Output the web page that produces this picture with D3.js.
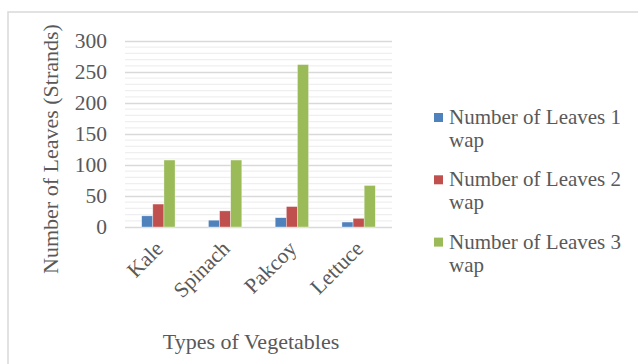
<!DOCTYPE html>
<html>
<head>
<meta charset="utf-8">
<script src="https://cdn.jsdelivr.net/npm/d3@7/dist/d3.min.js"></script>
<style>
  html, body { margin: 0; padding: 0; background: #fff; }
  svg { display: block; }
  text { font-family: "Liberation Serif", "Times New Roman", serif; fill: #595959; }
</style>
</head>
<body>
<svg id="chart" width="638" height="364"></svg>
<script>
// Leaf counts per vegetable at weeks after planting (wap)
const categories = ["Kale", "Spinach", "Pakcoy", "Lettuce"];
const seriesNames = ["Number of Leaves 1 wap", "Number of Leaves 2 wap", "Number of Leaves 3 wap"];
const leaves1wap = [18, 11, 15, 8];
const leaves2wap = [37, 26, 33, 14];
const leaves3wap = [108, 108, 262, 67];
const yTicks = [0, 50, 100, 150, 200, 250, 300];
const seriesColors = ["#4F81BD", "#C0504D", "#9BBB59"];

const seriesValues = [leaves1wap, leaves2wap, leaves3wap];

const svg = d3.select("#chart");
const W = 638, H = 364;
const plot = { left: 125, right: 392, top: 41, bottom: 227 };

// Outer chart frame
svg.append("rect")
  .attr("x", 8).attr("y", 12)
  .attr("width", W).attr("height", H)
  .attr("fill", "#fff")
  .attr("stroke", "#d9d9d9").attr("stroke-width", 1.5);

const y = d3.scaleLinear().domain([0, 300]).range([plot.bottom, plot.top]);
const x0 = d3.scaleBand().domain(categories)
  .range([plot.left, plot.right]).paddingInner(0.5).paddingOuter(0.25);
const x1 = d3.scaleBand().domain(d3.range(seriesNames.length))
  .range([0, x0.bandwidth()]);

// Minor gridlines every 10
const minor = d3.range(0, 301, 10).filter(v => v % 50 !== 0);
svg.append("g").selectAll("line").data(minor).join("line")
  .attr("x1", plot.left).attr("x2", plot.right)
  .attr("y1", d => y(d)).attr("y2", d => y(d))
  .attr("stroke", "#efefef").attr("stroke-width", 1.3);

// Major gridlines and value axis labels
const yAxis = d3.axisLeft(y).tickValues(yTicks).tickSize(-(plot.right - plot.left)).tickPadding(18);
const gy = svg.append("g").attr("transform", `translate(${plot.left},0)`).call(yAxis);
gy.select(".domain").remove();
gy.selectAll(".tick line").attr("stroke", "#d9d9d9").attr("stroke-width", 1.6);
gy.selectAll(".tick text")
  .attr("font-size", 21.5).attr("fill", "#595959")
  .attr("font-family", "Liberation Serif, Times New Roman, serif");

// Bars
const groups = svg.append("g").selectAll("g").data(categories).join("g")
  .attr("transform", c => `translate(${x0(c)},0)`);
groups.selectAll("rect")
  .data((c, ci) => seriesValues.map((vals, si) => ({ si, v: vals[ci] })))
  .join("rect")
  .attr("x", d => x1(d.si))
  .attr("width", x1.bandwidth())
  .attr("y", d => y(d.v))
  .attr("height", d => y(0) - y(d.v))
  .attr("fill", d => seriesColors[d.si])
  .attr("stroke", "#ffffff").attr("stroke-opacity", 0.6).attr("stroke-width", 0.6);

// Category labels, rotated
svg.append("g").selectAll("text").data(categories).join("text")
  .attr("transform", c => `translate(${x0(c) + x0.bandwidth() / 2 + 6},${plot.bottom + 23}) rotate(-45)`)
  .attr("text-anchor", "end")
  .attr("font-size", 21.5)
  .text(c => c);

// Axis titles
svg.append("text")
  .attr("transform", `translate(58,${(plot.top + plot.bottom) / 2 + 15}) rotate(-90)`)
  .attr("text-anchor", "middle")
  .attr("font-size", 22)
  .text("Number of Leaves (Strands)");

svg.append("text")
  .attr("x", 251).attr("y", 349)
  .attr("text-anchor", "middle")
  .attr("font-size", 22)
  .text("Types of Vegetables");

// Legend
const legend = svg.append("g").selectAll("g").data(seriesNames).join("g")
  .attr("transform", (d, i) => `translate(434,${124 + i * 62.3})`);
legend.append("rect")
  .attr("x", 0).attr("y", -11).attr("width", 9).attr("height", 9)
  .attr("fill", (d, i) => seriesColors[i]);
legend.append("text")
  .attr("x", 15).attr("y", 0)
  .attr("font-size", 21)
  .each(function (d) {
    const parts = [d.replace(/ wap$/, ""), "wap"];
    d3.select(this).selectAll("tspan").data(parts).join("tspan")
      .attr("x", 15).attr("dy", (p, k) => k === 0 ? 0 : 23)
      .text(p => p);
  });
</script>
</body>
</html>
